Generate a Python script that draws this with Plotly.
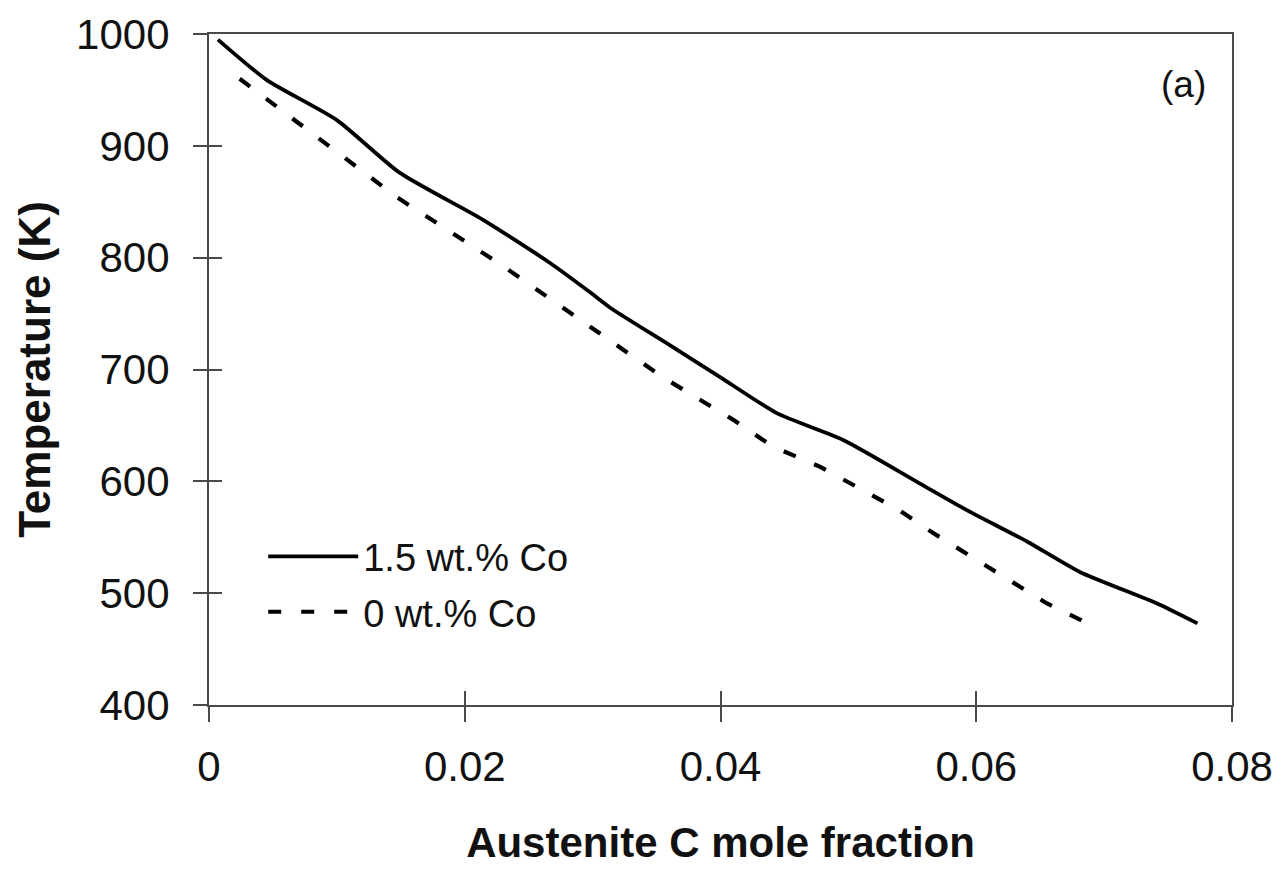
import plotly.graph_objects as go

# Data
x_co15 = [0.0007, 0.0045, 0.0100, 0.0149, 0.0214, 0.0267, 0.0298, 0.0314, 0.0360,
          0.0400, 0.0444, 0.0496, 0.0556, 0.0593, 0.0640, 0.0681, 0.0741, 0.0773]
t_co15 = [995, 959, 923, 876, 834, 795, 769, 755, 722,
          693, 661, 637, 598, 574, 546, 519, 491, 473]

x_co0 = [0.0024, 0.0077, 0.0147, 0.0228, 0.0303, 0.0355, 0.0410, 0.0441, 0.0478,
         0.0540, 0.0566, 0.0655, 0.0687]
t_co0 = [960, 914, 854, 794, 735, 693, 655, 631, 613,
         574, 554, 491, 473]

x_ticks = [0, 0.02, 0.04, 0.06, 0.08]
x_tick_labels = ["0", "0.02", "0.04", "0.06", "0.08"]
y_ticks = [400, 500, 600, 700, 800, 900, 1000]

series_names = ["1.5 wt.% Co", "0 wt.% Co"]

FONT = "Liberation Sans, Arial, sans-serif"
AX = "#4a4a4a"

fig = go.Figure()
fig.add_trace(go.Scatter(x=x_co15, y=t_co15, mode="lines", name=series_names[0],
                         legendgroup="a",
                         line=dict(color="black", width=3.8, shape="spline", smoothing=0.6)))
fig.add_trace(go.Scatter(x=x_co0, y=t_co0, mode="lines", name=series_names[1],
                         legendgroup="b",
                         line=dict(color="black", width=4.2, dash="13px,20px")))
# invisible trace on overlay axes for crossing ticks
fig.add_trace(go.Scatter(x=x_co15, y=t_co15, xaxis="x2", yaxis="y2", mode="lines",
                         line=dict(color="rgba(0,0,0,0)"), showlegend=False, hoverinfo="skip"))

fig.update_layout(
    width=1286, height=869,
    paper_bgcolor="white", plot_bgcolor="white",
    margin=dict(l=201, r=62, t=26, b=172, autoexpand=False),
    font=dict(family=FONT, color="#111"),
    showlegend=True,
    legend=dict(x=0.053, y=0.268, xanchor="left", yanchor="top",
                bgcolor="rgba(0,0,0,0)", font=dict(size=38, family=FONT),
                itemwidth=90, tracegroupgap=3),
    xaxis=dict(range=[0, 0.08], tickvals=x_ticks, ticktext=x_tick_labels,
               showgrid=False, zeroline=False, showline=True, linecolor=AX, linewidth=2.2,
               mirror=True, ticks="outside", ticklen=15, tickwidth=2, tickcolor=AX,
               tickfont=dict(size=42, family=FONT), ticklabelstandoff=8,
               title=dict(text="<b>Austenite C mole fraction</b>", font=dict(size=42, family=FONT),
                          standoff=39)),
    yaxis=dict(range=[400, 1000], tickvals=y_ticks,
               showgrid=False, zeroline=False, showline=True, linecolor=AX, linewidth=2.2,
               mirror=True, ticks="outside", ticklen=14, tickwidth=2, tickcolor=AX,
               tickfont=dict(size=42, family=FONT), ticklabelstandoff=15,
               title=dict(text="<b>Temperature (K)</b>", font=dict(size=44, family=FONT),
                          standoff=12)),
    xaxis2=dict(range=[0, 0.08], tickvals=x_ticks, overlaying="x", anchor="y2",
                showticklabels=False, showgrid=False, zeroline=False, showline=False,
                ticks="inside", ticklen=14, tickwidth=2, tickcolor=AX),
    yaxis2=dict(range=[400, 1000], tickvals=y_ticks, overlaying="y", anchor="x2",
                showticklabels=False, showgrid=False, zeroline=False, showline=False,
                ticks="inside", ticklen=13, tickwidth=2, tickcolor=AX),
    annotations=[dict(text="(a)", xref="paper", yref="paper", x=0.9765, y=0.924,
                      xanchor="right", yanchor="middle", showarrow=False,
                      font=dict(size=37, family=FONT, color="#111"))],
)

fig.write_html("out.html")
